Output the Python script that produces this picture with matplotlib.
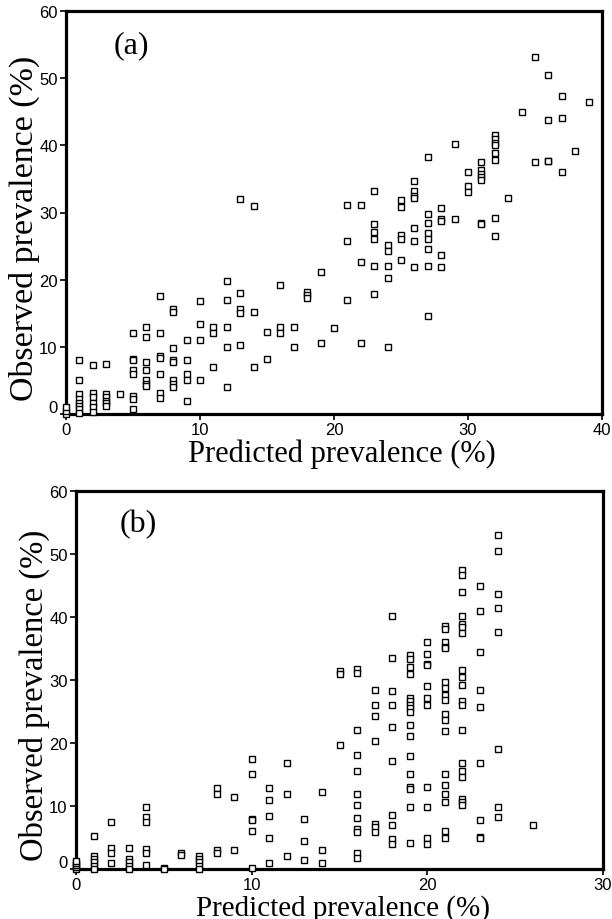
import matplotlib
matplotlib.use("Agg")
import matplotlib.pyplot as plt
from matplotlib.transforms import ScaledTranslation

# panel (a): predicted vs observed prevalence (%)
pred_a = ([0] * 3 + [1] * 8 + [2] * 6 + [3] * 6 + [4] + [5] * 8 + [6] * 7 + [7] * 7
          + [8] * 8 + [9] * 5 + [10] * 4 + [11] * 3 + [12] * 5 + [13] * 5 + [14] * 3
          + [15] * 2 + [16] * 3 + [17] * 2 + [18] * 3 + [19] * 2 + [20] + [21] * 3
          + [22] * 3 + [23] * 6 + [24] * 5 + [25] * 5 + [26] * 7 + [27] * 8 + [28] * 5
          + [29] * 2 + [30] * 3 + [31] * 7 + [32] * 8 + [33] + [34] + [35] * 2
          + [36] * 4 + [37] * 3 + [38] + [39])
obs_a = [0, 0.5, 1,
         8, 5, 3, 2.2, 1.7, 1.2, 0.7, 0.2,
         7.3, 3.1, 2.5, 1.7, 1, 0.3,
         7.4, 3, 2.5, 2, 1.6, 1.2,
         3,
         12, 8.2, 8, 6.5, 6, 2.7, 2.2, 0.8,
         13, 11.5, 7.8, 6.5, 5, 4.5, 4.2,
         17.5, 12, 8.7, 8.3, 6, 3.1, 2.4,
         15.6, 15.2, 9.8, 8, 7.7, 5.1, 4.5, 4,
         11, 8, 6, 5, 2,
         16.8, 13.4, 11, 5,
         13, 12, 7,
         19.8, 17, 13, 10, 4,
         32, 18, 15.6, 15.1, 10.2,
         31, 15.2, 7,
         12.2, 8.2,
         19.2, 13, 12,
         13, 10,
         18.2, 17.7, 17.2,
         21.1, 10.6,
         12.8,
         31.1, 25.7, 17,
         31.1, 22.7, 10.6,
         33.2, 28.3, 27.1, 26.1, 22.1, 17.9,
         25.1, 24.2, 22.1, 20.3, 10,
         31.8, 30.8, 26.7, 26, 22.9,
         34.7, 33.2, 32.5, 32.1, 27.7, 25.7, 21.9,
         38.3, 29.8, 28.4, 26.9, 26, 24.5, 22.1, 14.6,
         30.6, 29, 28.8, 23.7, 21.9,
         40.2, 29,
         36.1, 33.9, 33,
         37.5, 36.3, 35.8, 35.3, 34.9, 28.5, 28.3,
         41.5, 40.9, 40.4, 40, 38.8, 37.8, 29.2, 26.5,
         32.1,
         44.9,
         53.1, 37.5,
         50.5, 43.8, 37.7, 37.6,
         47.4, 44.1, 36.1,
         39.1,
         46.5]

# panel (b)
pred_b = ([0] * 5 + [1] * 6 + [2] * 4 + [3] * 5 + [4] * 6 + [5] * 2 + [6] * 2 + [7] * 5
          + [8] * 4 + [9] * 2 + [10] * 6 + [11] * 5 + [12] * 3 + [13] * 3 + [14] * 3
          + [15] * 3 + [16] * 12 + [17] * 7 + [18] * 10 + [19] * 17 + [20] * 11
          + [21] * 18 + [22] * 19 + [23] * 9 + [24] * 8 + [26])
obs_b = [0, 0.3, 0.6, 0.9, 1.2,
         5.3, 2.1, 1.6, 1.1, 0.5, 0,
         7.4, 3.3, 2.6, 0.9,
         3.3, 1.6, 1.1, 0.5, 0,
         9.8, 8.2, 7.4, 3.1, 2.5, 0.7,
         0.2, 0,
         2.6, 2.3,
         2.1, 1.6, 1.1, 0.5, 0,
         12.9, 11.9, 3, 2.6,
         11.4, 3,
         17.5, 15.1, 7.9, 7.7, 6, 0.2,
         12.9, 11, 8.4, 5, 0.9,
         16.8, 11.9, 2.1,
         7.9, 4.4, 1.5,
         12.2, 3, 0.9,
         31.5, 31, 19.7,
         31.8, 31.1, 22, 18.1, 15.6, 11.9, 10.1, 8.1, 6.3, 5.8, 2.5, 1.7,
         28.4, 26, 24.3, 20.3, 7.1, 6.6, 5.8,
         40.1, 33.5, 28.2, 26, 22.6, 17.1, 8.6, 7, 4.7, 4,
         33.9, 33.3, 32, 31, 27.1, 26.6, 26, 25.5, 25, 22.9, 21.1, 17.9, 15.1, 13, 12.7, 9.9, 4.2,
         36.1, 34.2, 32.6, 32.4, 29, 27.1, 26, 13, 9.9, 5, 4,
         38.6, 38.1, 36, 35.3, 35.1, 29.7, 28.8, 27.6, 26.8, 24.6, 23.7, 21.9, 15.1, 13.3, 11.9, 10.6, 6, 5,
         47.4, 46.6, 44, 40.1, 38.9, 38.4, 37.5, 31.6, 30.5, 29.2, 26.6, 26, 22, 16.9, 15.6, 14.6, 11.1, 10.6, 10.2,
         44.9, 40.9, 34.5, 28.4, 25.7, 16.9, 7.8, 5.1, 4.9,
         53, 50.4, 43.7, 41.4, 37.6, 19, 9.9, 8.2,
         7]

x_ticks_a = [0, 10, 20, 30, 40]
x_ticks_b = [0, 10, 20, 30]
y_ticks = [0, 10, 20, 30, 40, 50, 60]

serif = ["Liberation Serif", "DejaVu Serif"]
sans = ["Liberation Sans", "DejaVu Sans"]

fig = plt.figure(figsize=(6.12, 9.2), dpi=100)
ax_a = fig.add_axes([66 / 612, 1 - 415 / 920, 536 / 612, 403 / 920])
ax_b = fig.add_axes([76 / 612, 1 - 870 / 920, 527 / 612, 378 / 920])


def style_panel(ax, xs, ys, xticks, xmax, tag, tag_x, xl_size, xl_x, yl_size):
    ax.plot(xs, ys, linestyle="none", marker="s", markersize=4.6,
            markerfacecolor="white", markeredgecolor="black", markeredgewidth=1.0,
            clip_on=False, zorder=3)
    ax.set_xlim(0, xmax)
    ax.set_ylim(0, 60)
    ax.set_xticks(xticks)
    ax.set_yticks(y_ticks)
    for s in ax.spines.values():
        s.set_linewidth(2.3)
    ax.tick_params(direction="out", length=4, width=1.2, pad=2, labelsize=12)
    for lab in ax.get_xticklabels() + ax.get_yticklabels():
        lab.set_family(sans)
    # the zero label sits a little above the axis in the original
    zero = ax.get_yticklabels()[0]
    zero.set_transform(zero.get_transform()
                       + ScaledTranslation(0, 6 / 72, fig.dpi_scale_trans))
    ax.set_xlabel("Predicted prevalence (%)", family=serif, fontsize=xl_size,
                  labelpad=1, x=xl_x)
    ax.set_ylabel("Observed prevalence (%)", family=serif, fontsize=yl_size,
                  labelpad=-1, y=0.463)
    ax.text(tag_x, 0.952, tag, transform=ax.transAxes, family=serif,
            fontsize=23, va="top", ha="left")


style_panel(ax_a, pred_a, obs_a, x_ticks_a, 40, "(a)", 0.088, 22, 0.515, 24.5)
style_panel(ax_b, pred_b, obs_b, x_ticks_b, 30, "(b)", 0.082, 21, 0.507, 23.5)

fig.savefig("out.png", dpi=100)
